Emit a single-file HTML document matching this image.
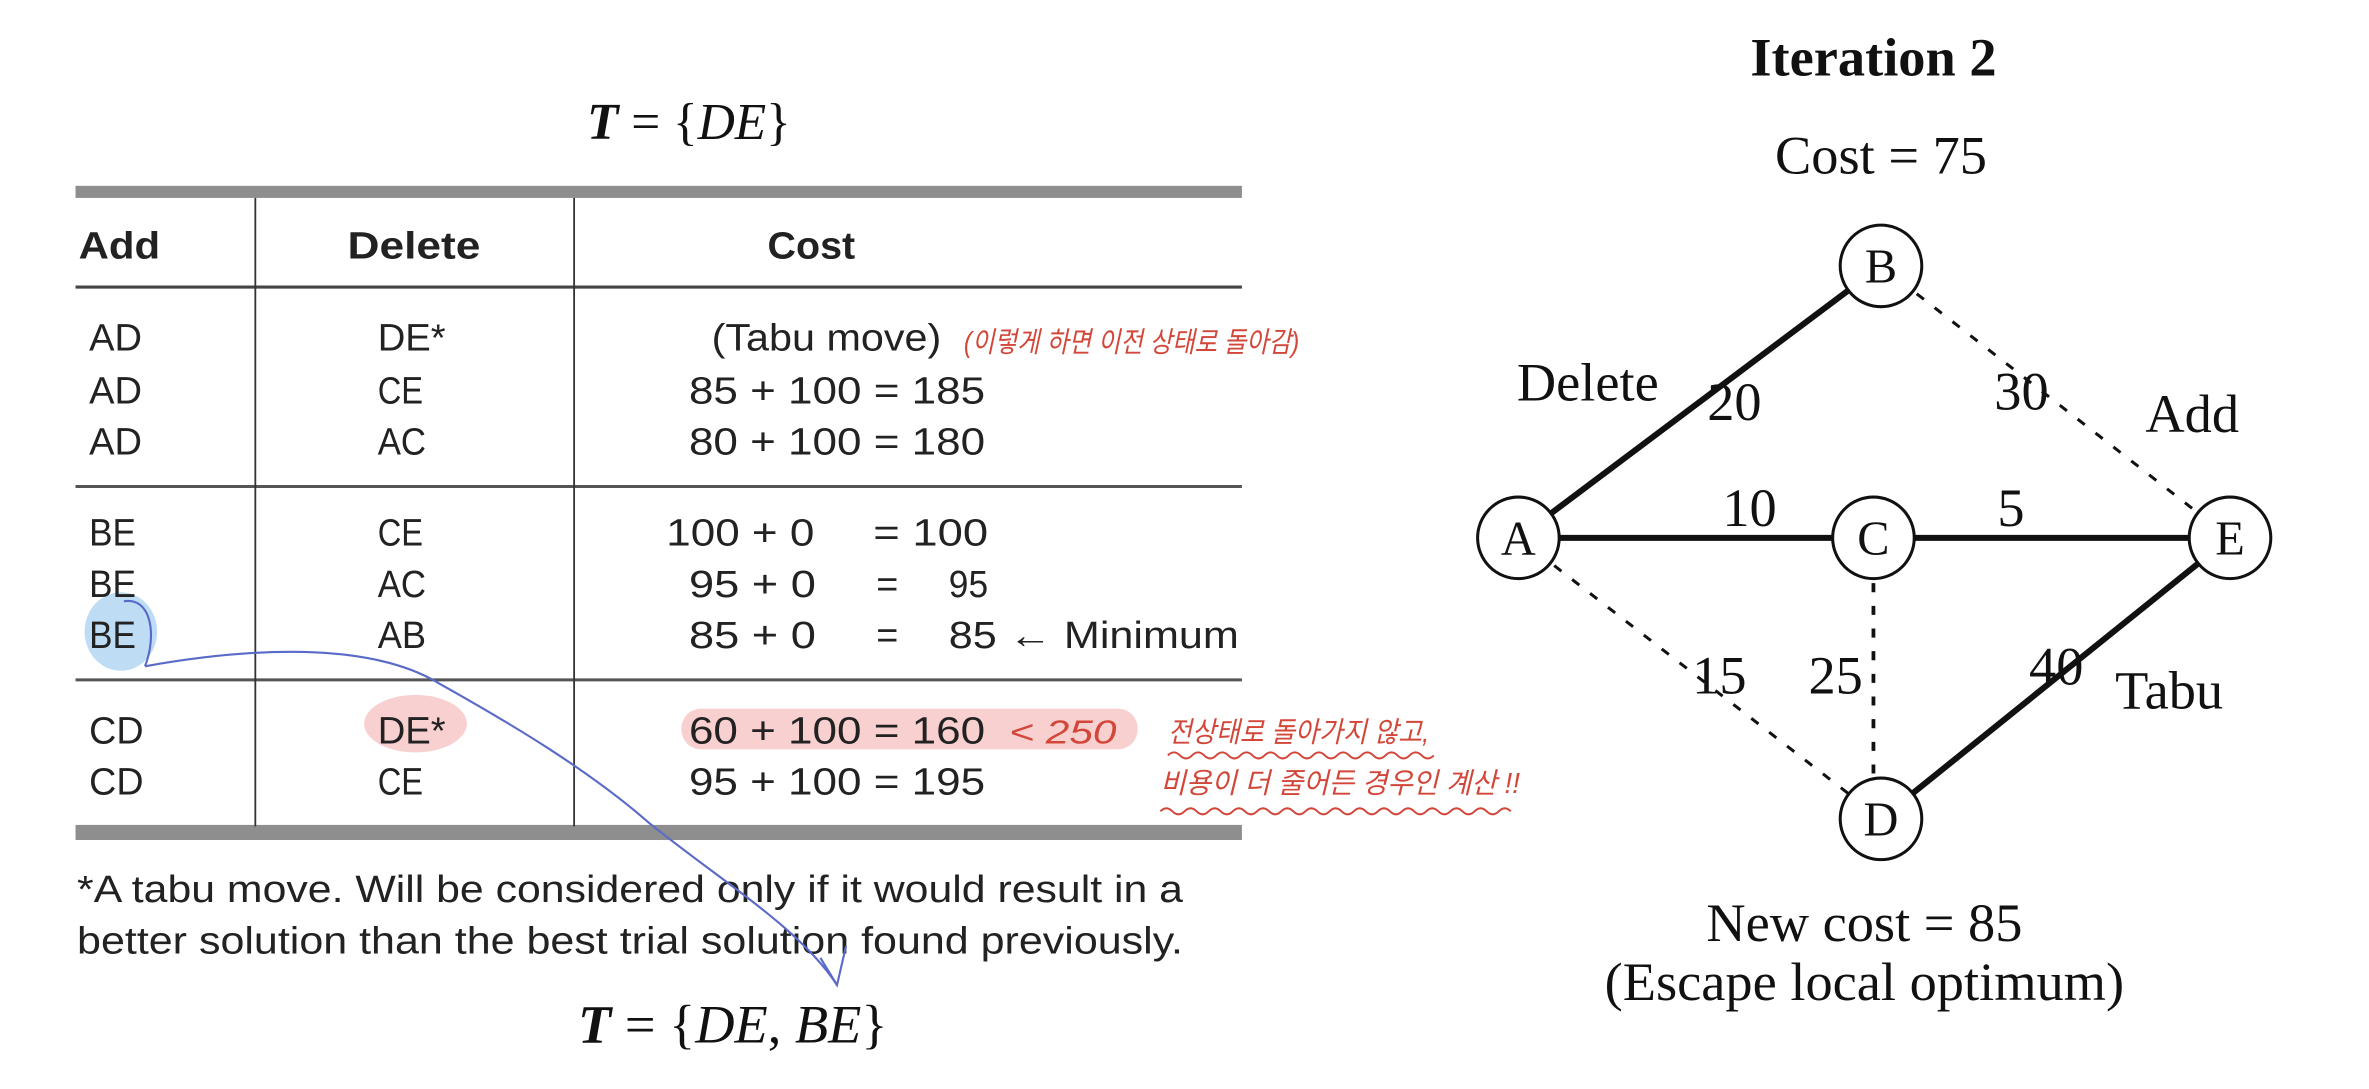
<!DOCTYPE html>
<html><head><meta charset="utf-8"><style>
html,body{margin:0;padding:0;background:#fff;}
svg{display:block;}
.s{font-family:"Liberation Sans","Noto Sans CJK KR",sans-serif;fill:#222;}
.r{font-family:"Liberation Serif",serif;fill:#111;}
.k{font-family:"Liberation Sans","Noto Sans CJK KR",sans-serif;fill:#d2473a;font-style:italic;}
</style></head><body>
<svg width="2369" height="1089" viewBox="0 0 1568 720.8" preserveAspectRatio="none" xmlns="http://www.w3.org/2000/svg">
<text x="456" y="92" class="r" font-size="34" text-anchor="middle"><tspan font-weight="bold" font-style="italic">T</tspan> = {<tspan font-style="italic">DE</tspan>}</text>
<rect x="50" y="123" width="772" height="8" fill="#8e8e8e"/>
<line x1="50" y1="190" x2="822" y2="190" stroke="#444" stroke-width="2"/>
<line x1="50" y1="322" x2="822" y2="322" stroke="#555" stroke-width="2"/>
<line x1="50" y1="450" x2="822" y2="450" stroke="#555" stroke-width="2"/>
<rect x="50" y="546" width="772" height="10" fill="#8e8e8e"/>
<line x1="169" y1="131" x2="169" y2="547" stroke="#333" stroke-width="1.2"/>
<line x1="380" y1="131" x2="380" y2="547" stroke="#333" stroke-width="1.2"/>
<g class="s" font-size="25" font-weight="bold"><text x="52" y="171" textLength="54" lengthAdjust="spacingAndGlyphs">Add</text><text x="230" y="171" textLength="88" lengthAdjust="spacingAndGlyphs">Delete</text><text x="508" y="171" textLength="58" lengthAdjust="spacingAndGlyphs">Cost</text></g>
<ellipse cx="80" cy="418" rx="24" ry="26" fill="#bfdcf5"/>
<ellipse cx="275" cy="479" rx="34" ry="19" fill="#f8d0d0"/>
<rect x="451" y="469" width="302" height="27" rx="13" fill="#f8d0d0"/>
<g class="s" font-size="25">
<text x="59" y="232" textLength="35" lengthAdjust="spacingAndGlyphs">AD</text><text x="250" y="232" textLength="45" lengthAdjust="spacingAndGlyphs">DE*</text><text x="471" y="232" textLength="152" lengthAdjust="spacingAndGlyphs">(Tabu move)</text>
<text x="59" y="267" textLength="35" lengthAdjust="spacingAndGlyphs">AD</text><text x="250" y="267" textLength="30" lengthAdjust="spacingAndGlyphs">CE</text><text x="456" y="267" textLength="196" lengthAdjust="spacingAndGlyphs">85 + 100 = 185</text>
<text x="59" y="301" textLength="35" lengthAdjust="spacingAndGlyphs">AD</text><text x="250" y="301" textLength="32" lengthAdjust="spacingAndGlyphs">AC</text><text x="456" y="301" textLength="196" lengthAdjust="spacingAndGlyphs">80 + 100 = 180</text>
<text x="59" y="361" textLength="31" lengthAdjust="spacingAndGlyphs">BE</text><text x="250" y="361" textLength="30" lengthAdjust="spacingAndGlyphs">CE</text><text x="441" y="361" textLength="98" lengthAdjust="spacingAndGlyphs">100 + 0</text><text x="578" y="361" textLength="76" lengthAdjust="spacingAndGlyphs">= 100</text>
<text x="59" y="395" textLength="31" lengthAdjust="spacingAndGlyphs">BE</text><text x="250" y="395" textLength="32" lengthAdjust="spacingAndGlyphs">AC</text><text x="456" y="395" textLength="84" lengthAdjust="spacingAndGlyphs">95 + 0</text><text x="580" y="395">=</text><text x="628" y="395" textLength="26" lengthAdjust="spacingAndGlyphs">95</text>
<text x="59" y="429" textLength="31" lengthAdjust="spacingAndGlyphs">BE</text><text x="250" y="429" textLength="32" lengthAdjust="spacingAndGlyphs">AB</text><text x="456" y="429" textLength="84" lengthAdjust="spacingAndGlyphs">85 + 0</text><text x="580" y="429">=</text><text x="628" y="429" textLength="192" lengthAdjust="spacingAndGlyphs">85 ← Minimum</text>
<text x="59" y="492" textLength="36" lengthAdjust="spacingAndGlyphs">CD</text><text x="250" y="492" textLength="45" lengthAdjust="spacingAndGlyphs">DE*</text><text x="456" y="492" textLength="196" lengthAdjust="spacingAndGlyphs">60 + 100 = 160</text>
<text x="59" y="526" textLength="36" lengthAdjust="spacingAndGlyphs">CD</text><text x="250" y="526" textLength="30" lengthAdjust="spacingAndGlyphs">CE</text><text x="456" y="526" textLength="196" lengthAdjust="spacingAndGlyphs">95 + 100 = 195</text>
<text x="51" y="597" textLength="732" lengthAdjust="spacingAndGlyphs">*A tabu move. Will be considered only if it would result in a</text>
<text x="51" y="631" textLength="732" lengthAdjust="spacingAndGlyphs">better solution than the best trial solution found previously.</text>
</g>
<text x="485" y="690" class="r" font-size="36" text-anchor="middle"><tspan font-weight="bold" font-style="italic">T</tspan> = {<tspan font-style="italic">DE</tspan>, <tspan font-style="italic">BE</tspan>}</text>
<text x="638" y="233" class="k" font-size="19" textLength="222" lengthAdjust="spacingAndGlyphs">(이렇게 하면 이전 상태로 돌아감)</text>
<text x="668" y="492" class="k" font-size="22" textLength="71" lengthAdjust="spacingAndGlyphs">&lt; 250</text>
<text x="773" y="491" class="k" font-size="19" textLength="173" lengthAdjust="spacingAndGlyphs">전상태로 돌아가지 않고,</text>
<text x="768" y="525" class="k" font-size="19" textLength="238" lengthAdjust="spacingAndGlyphs">비용이 더 줄어든 경우인 계산 !!</text>
<path d="M773 500 q4 -4 8 0 t8 0 t8 0 t8 0 t8 0 t8 0 t8 0 t8 0 t8 0 t8 0 t8 0 t8 0 t8 0 t8 0 t8 0 t8 0 t8 0 t8 0 t8 0 t8 0 t8 0 t8 0" fill="none" stroke="#d2473a" stroke-width="1.3"/>
<path d="M768 537 q4 -4 8 0 t8 0 t8 0 t8 0 t8 0 t8 0 t8 0 t8 0 t8 0 t8 0 t8 0 t8 0 t8 0 t8 0 t8 0 t8 0 t8 0 t8 0 t8 0 t8 0 t8 0 t8 0 t8 0 t8 0 t8 0 t8 0 t8 0 t8 0 t8 0" fill="none" stroke="#d2473a" stroke-width="1.3"/>
<path d="M82 398 C100 395 104 420 96 441" fill="none" stroke="#5a6ac8" stroke-width="1.4"/>
<path d="M96 441 C180 426 250 428 290 452 C340 480 390 510 430 545 C480 585 530 615 554 652" fill="none" stroke="#5a6ac8" stroke-width="1.4"/>
<path d="M543 634 L554 652 L560 626" fill="none" stroke="#5a6ac8" stroke-width="1.4"/>
<text x="1240" y="50" class="r" font-size="36" font-weight="bold" text-anchor="middle">Iteration 2</text>
<text x="1245" y="115" class="r" font-size="36" text-anchor="middle">Cost = 75</text>
<g stroke="#111" fill="none">
<line x1="1005" y1="356" x2="1245" y2="176" stroke-width="4"/>
<line x1="1005" y1="356" x2="1240" y2="356" stroke-width="4"/>
<line x1="1240" y1="356" x2="1476" y2="356" stroke-width="4"/>
<line x1="1245" y1="542" x2="1476" y2="356" stroke-width="4"/>
<line x1="1245" y1="176" x2="1476" y2="356" stroke-width="2" stroke-dasharray="6,9"/>
<line x1="1005" y1="356" x2="1245" y2="542" stroke-width="2" stroke-dasharray="6,9"/>
<line x1="1240" y1="356" x2="1240" y2="542" stroke-width="2.5" stroke-dasharray="6,9"/>
</g>
<g fill="#fff" stroke="#111" stroke-width="2">
<circle cx="1245" cy="176" r="27"/><circle cx="1005" cy="356" r="27"/><circle cx="1240" cy="356" r="27"/><circle cx="1476" cy="356" r="27"/><circle cx="1245" cy="542" r="27"/>
</g>
<g class="r" font-size="32" text-anchor="middle">
<text x="1245" y="187">B</text><text x="1005" y="367">A</text><text x="1240" y="367">C</text><text x="1476" y="367">E</text><text x="1245" y="553">D</text>
</g>
<g class="r" font-size="36">
<text x="1004" y="265">Delete</text><text x="1130" y="278">20</text><text x="1320" y="271">30</text><text x="1420" y="286">Add</text>
<text x="1140" y="348">10</text><text x="1322" y="348">5</text><text x="1120" y="459">15</text><text x="1197" y="459">25</text>
<text x="1343" y="453">40</text><text x="1400" y="469">Tabu</text>
</g>
<g class="r" font-size="36" text-anchor="middle"><text x="1234" y="623">New cost = 85</text><text x="1234" y="662">(Escape local optimum)</text></g>
</svg>
</body></html>
